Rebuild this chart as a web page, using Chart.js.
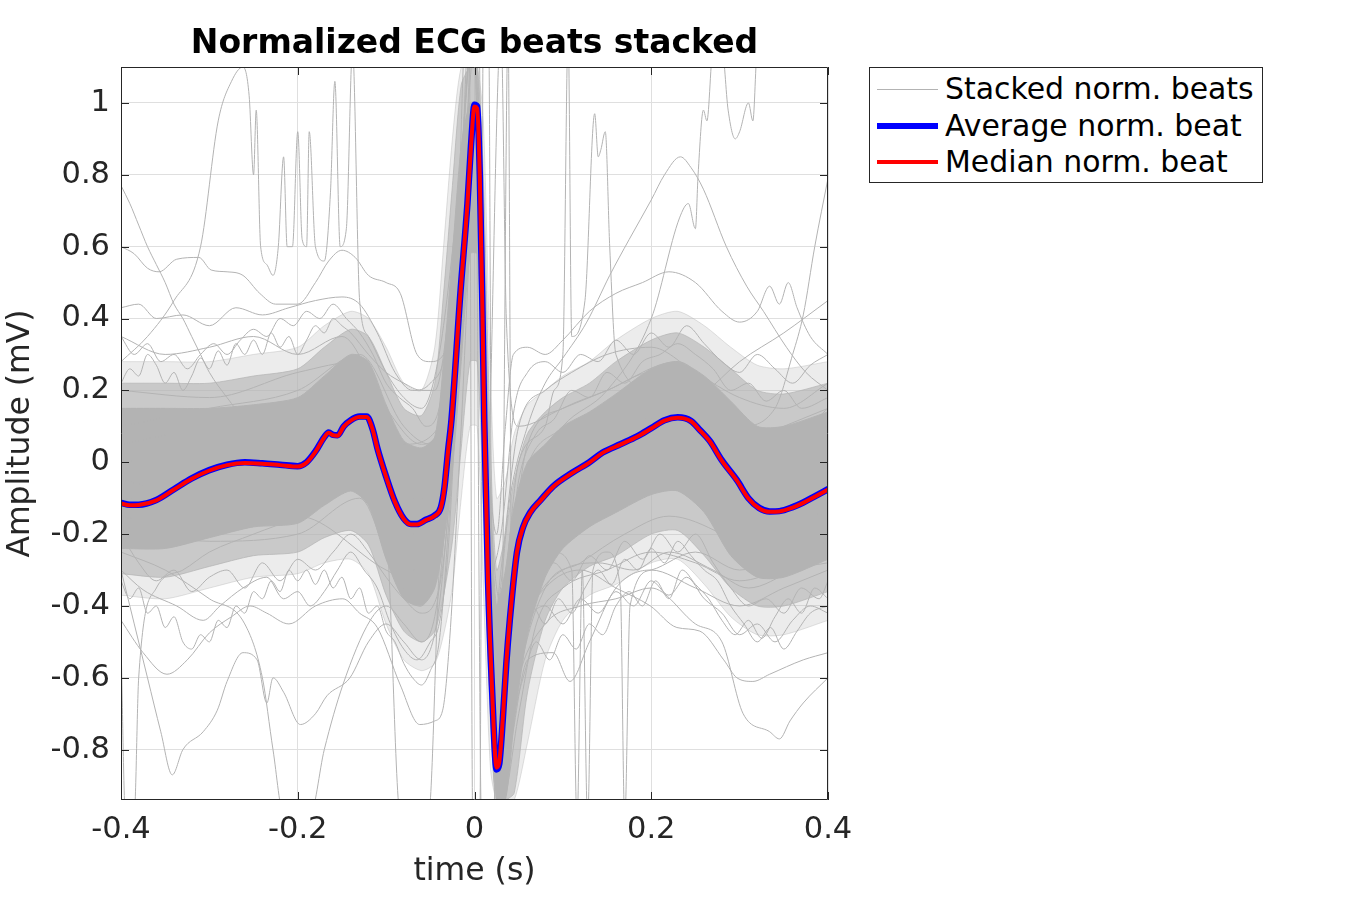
<!DOCTYPE html>
<html>
<head>
<meta charset="utf-8">
<script src="https://cdn.jsdelivr.net/npm/chart.js@4.4.1/dist/chart.umd.min.js"></script>
<style>
  html, body { margin: 0; padding: 0; background: #fff; overflow: hidden; }
  #wrap { position: relative; width: 1350px; height: 900px; }
  #title { position: absolute; left: 121px; width: 707px; top: 22px; text-align: center;
           font: bold 33px "DejaVu Sans"; color: #000; white-space: nowrap; }
  #legend { position: absolute; left: 869px; top: 67px; width: 392px; height: 114px;
            border: 1px solid #262626; background: #fff; }
  .lg { position: absolute; left: 0; height: 36px; width: 392px; }
  .lg .ln { position: absolute; left: 7px; width: 61px; }
  .lg .tx { position: absolute; left: 75px; top: 0; font: 29.9px "DejaVu Sans"; color: #000; line-height: 36px; white-space: nowrap; }
</style>
</head>
<body>
<div id="wrap">
  <canvas id="c" width="1350" height="900"></canvas>
  <div id="title">Normalized ECG beats stacked</div>
  <div id="legend">
    <div class="lg" style="top:3px"><div class="ln" style="top:18px;height:1px;background:#b3b3b3"></div><div class="tx">Stacked norm. beats</div></div>
    <div class="lg" style="top:40px"><div class="ln" style="top:15px;height:6px;background:#0000ff"></div><div class="tx">Average norm. beat</div></div>
    <div class="lg" style="top:76px"><div class="ln" style="top:16px;height:4px;background:#ff0000"></div><div class="tx">Median norm. beat</div></div>
  </div>
</div>
<script>
// ---------- axis ticks ----------
const xTicks = [-0.4, -0.2, 0, 0.2, 0.4];
const yTicks = [-0.8, -0.6, -0.4, -0.2, 0, 0.2, 0.4, 0.6, 0.8, 1];

// ---------- average and median beat ----------
const beatTime = [-0.40,-0.39,-0.38,-0.36,-0.34,-0.32,-0.30,-0.28,-0.26,-0.24,-0.22,-0.20,-0.19,-0.18,-0.17,-0.165,-0.16,-0.155,-0.148,-0.14,-0.13,-0.122,-0.115,-0.11,-0.10,-0.09,-0.08,-0.072,-0.065,-0.055,-0.045,-0.038,-0.034,-0.030,-0.026,-0.016,-0.008,-0.004,0.000,0.003,0.006,0.009,0.011,0.0153,0.020,0.025,0.028,0.032,0.036,0.040,0.048,0.055,0.063,0.075,0.089,0.11,0.13,0.145,0.165,0.184,0.20,0.215,0.23,0.245,0.255,0.266,0.28,0.297,0.31,0.322,0.334,0.345,0.36,0.372,0.385,0.40];
const avgBeat = [-0.113,-0.118,-0.118,-0.105,-0.075,-0.045,-0.022,-0.007,0.000,-0.003,-0.007,-0.011,0.000,0.030,0.070,0.083,0.076,0.075,0.100,0.117,0.127,0.127,0.090,0.040,-0.040,-0.110,-0.157,-0.172,-0.172,-0.160,-0.148,-0.125,-0.070,0.030,0.120,0.470,0.720,0.880,0.995,0.990,0.800,0.420,0.120,-0.330,-0.640,-0.855,-0.840,-0.717,-0.560,-0.438,-0.251,-0.180,-0.140,-0.105,-0.067,-0.030,0.000,0.027,0.050,0.072,0.095,0.117,0.125,0.115,0.090,0.060,0.005,-0.050,-0.100,-0.127,-0.137,-0.136,-0.125,-0.112,-0.095,-0.075];
const medianBeat = [-0.115,-0.120,-0.119,-0.106,-0.076,-0.046,-0.023,-0.008,-0.002,-0.004,-0.008,-0.012,-0.001,0.029,0.069,0.082,0.075,0.074,0.099,0.116,0.126,0.126,0.089,0.039,-0.041,-0.111,-0.158,-0.173,-0.173,-0.161,-0.149,-0.126,-0.071,0.028,0.118,0.468,0.718,0.878,0.990,0.985,0.795,0.418,0.118,-0.332,-0.642,-0.850,-0.835,-0.715,-0.558,-0.437,-0.250,-0.181,-0.141,-0.106,-0.068,-0.031,-0.001,0.026,0.049,0.071,0.094,0.116,0.124,0.114,0.089,0.059,0.004,-0.051,-0.101,-0.128,-0.138,-0.137,-0.126,-0.113,-0.096,-0.076];

// ---------- dense core of the stacked beats (envelopes) ----------
const bandTime    = [-0.40,-0.35,-0.30,-0.25,-0.20,-0.17,-0.14,-0.12,-0.10,-0.08,-0.06,-0.045,-0.035,-0.025,-0.015,-0.005,0.003,0.010,0.018,0.025,0.035,0.045,0.060,0.080,0.10,0.13,0.16,0.20,0.23,0.26,0.29,0.32,0.35,0.40];
const coreUpper   = [0.15,0.15,0.15,0.16,0.18,0.24,0.30,0.28,0.16,0.06,0.04,0.07,0.28,0.58,0.88,1.00,1.00,0.65,-0.10,-0.40,-0.30,-0.12,0.00,0.05,0.10,0.14,0.19,0.26,0.28,0.24,0.17,0.10,0.10,0.14];
const coreLower   = [-0.24,-0.24,-0.21,-0.18,-0.17,-0.12,-0.08,-0.12,-0.27,-0.38,-0.40,-0.35,-0.22,-0.02,0.28,0.58,0.58,0.18,-0.48,-0.94,-0.94,-0.72,-0.48,-0.32,-0.24,-0.18,-0.14,-0.09,-0.08,-0.14,-0.26,-0.32,-0.32,-0.27];
const haloUpper   = [0.22,0.22,0.22,0.24,0.26,0.32,0.37,0.35,0.25,0.15,0.13,0.22,0.47,0.77,1.05,1.10,1.10,0.80,0.05,-0.30,-0.20,-0.05,0.08,0.14,0.18,0.22,0.28,0.34,0.36,0.32,0.26,0.20,0.19,0.22];
const haloLower   = [-0.31,-0.32,-0.29,-0.26,-0.25,-0.21,-0.19,-0.23,-0.37,-0.47,-0.50,-0.47,-0.37,-0.22,0.04,0.28,0.28,-0.12,-0.72,-0.94,-0.94,-0.92,-0.64,-0.44,-0.35,-0.29,-0.26,-0.20,-0.19,-0.26,-0.35,-0.40,-0.40,-0.36];
const fringeUpper = [0.28,0.28,0.28,0.30,0.32,0.38,0.42,0.40,0.32,0.22,0.20,0.32,0.60,0.90,1.10,1.10,1.10,0.95,0.25,-0.10,-0.05,0.08,0.16,0.20,0.24,0.28,0.34,0.40,0.42,0.38,0.32,0.27,0.26,0.28];
const fringeLower = [-0.37,-0.38,-0.35,-0.32,-0.31,-0.28,-0.27,-0.31,-0.45,-0.55,-0.58,-0.56,-0.48,-0.35,-0.10,0.10,0.10,-0.35,-0.85,-0.94,-0.94,-0.94,-0.78,-0.55,-0.44,-0.37,-0.34,-0.28,-0.27,-0.34,-0.43,-0.48,-0.48,-0.44];

// ---------- individual outlying beats [time, amplitude] ----------
const beatHighDecline = [[-0.4,0.77],[-0.39,0.72],[-0.38,0.66],[-0.37,0.6],[-0.36,0.55],[-0.35,0.5],[-0.34,0.44],[-0.33,0.4],[-0.32,0.35],[-0.31,0.3],[-0.3,0.25],[-0.28,0.18],[-0.26,0.12],[-0.23,0.08],[-0.2,0.06],[-0.17,0.12],[-0.14,0.18],[-0.12,0.15],[-0.1,0.05],[-0.08,-0.08],[-0.06,-0.1],[-0.04,-0.05],[-0.025,0.2],[-0.01,0.6],[0.0,0.95],[0.01,0.3],[0.02,-0.6],[0.027,-0.8],[0.035,-0.55],[0.05,-0.2],[0.08,-0.05],[0.12,0.02],[0.17,0.08],[0.22,0.15],[0.26,0.1],[0.3,-0.05],[0.34,-0.1],[0.4,-0.02]];
const beatNoisyHigh = [[-0.4,0.28],[-0.37,0.35],[-0.34,0.45],[-0.31,0.6],[-0.29,0.95],[-0.275,1.06],[-0.262,1.1],[-0.255,1.02],[-0.25,0.8],[-0.247,0.98],[-0.242,0.6],[-0.235,0.55],[-0.228,0.52],[-0.222,0.6],[-0.216,0.85],[-0.212,0.6],[-0.206,0.6],[-0.2,0.92],[-0.195,0.62],[-0.19,0.6],[-0.187,0.92],[-0.18,0.6],[-0.17,0.56],[-0.163,0.75],[-0.158,1.06],[-0.152,0.6],[-0.145,0.65],[-0.138,1.15],[-0.13,0.45],[-0.12,0.35],[-0.1,0.25],[-0.08,0.18],[-0.06,0.15],[-0.04,0.3],[-0.02,0.7],[0.0,1.2],[0.012,-0.2],[0.025,-0.5],[0.05,0.0],[0.08,0.1],[0.09,0.2],[0.1,0.3],[0.106,1.2],[0.11,0.35],[0.125,0.45],[0.136,0.97],[0.14,0.85],[0.143,0.87],[0.148,0.92],[0.153,0.6],[0.16,0.3],[0.2,0.2],[0.25,0.15],[0.3,0.05],[0.35,0.1],[0.4,0.15]];
const beatLateHump = [[-0.4,0.35],[-0.35,0.3],[-0.3,0.32],[-0.25,0.35],[-0.2,0.3],[-0.15,0.35],[-0.1,0.15],[-0.06,0.05],[-0.03,0.2],[-0.01,0.7],[0.0,1.0],[0.012,0.0],[0.025,-0.4],[0.04,-0.1],[0.06,0.1],[0.08,0.22],[0.1,0.29],[0.127,0.39],[0.153,0.52],[0.175,0.62],[0.2,0.73],[0.215,0.8],[0.233,0.85],[0.245,0.82],[0.259,0.76],[0.285,0.6],[0.308,0.49],[0.327,0.42],[0.353,0.32],[0.375,0.25],[0.4,0.2]];
const beatMidHigh = [[-0.4,0.43],[-0.38,0.44],[-0.36,0.4],[-0.33,0.41],[-0.3,0.38],[-0.27,0.43],[-0.24,0.41],[-0.21,0.43],[-0.18,0.45],[-0.15,0.46],[-0.13,0.44],[-0.11,0.36],[-0.09,0.25],[-0.07,0.2],[-0.05,0.22],[-0.03,0.35],[-0.015,0.8],[0.0,1.3],[0.01,0.4],[0.02,-0.5],[0.03,-0.3],[0.05,0.1],[0.08,0.2],[0.11,0.25],[0.15,0.3],[0.2,0.32],[0.25,0.25],[0.3,0.18],[0.35,0.15],[0.4,0.22]];
const beatWavyHigh = [[-0.4,0.6],[-0.385,0.58],[-0.37,0.54],[-0.357,0.53],[-0.337,0.565],[-0.312,0.57],[-0.298,0.535],[-0.28,0.53],[-0.262,0.52],[-0.243,0.47],[-0.225,0.44],[-0.2,0.44],[-0.18,0.5],[-0.165,0.56],[-0.15,0.59],[-0.135,0.57],[-0.12,0.52],[-0.1,0.5],[-0.084,0.47],[-0.065,0.3],[-0.05,0.28],[-0.035,0.3],[-0.02,0.6],[-0.005,1.0],[0.005,0.9],[0.015,-0.2],[0.025,-0.6],[0.04,-0.3],[0.06,0.05],[0.1,0.15],[0.15,0.2],[0.2,0.25],[0.25,0.22],[0.3,0.1],[0.35,0.05],[0.4,0.1]];
const beatPostWavy = [[-0.4,0.1],[-0.3,0.15],[-0.2,0.2],[-0.13,0.3],[-0.08,0.1],[-0.05,0.05],[-0.025,0.3],[-0.008,0.8],[0.002,1.0],[0.012,0.2],[0.025,-0.2],[0.035,0.1],[0.044,0.3],[0.06,0.32],[0.08,0.3],[0.1,0.34],[0.13,0.42],[0.16,0.47],[0.19,0.5],[0.22,0.53],[0.25,0.5],[0.28,0.42],[0.3,0.39],[0.32,0.42],[0.334,0.49],[0.345,0.44],[0.355,0.5],[0.365,0.43],[0.38,0.35],[0.4,0.3]];
const beatTopRight = [[-0.4,0.05],[-0.3,0.1],[-0.2,0.15],[-0.13,0.2],[-0.07,-0.05],[-0.03,0.2],[0.0,1.0],[0.015,-0.3],[0.025,-0.6],[0.05,-0.1],[0.1,0.1],[0.15,0.2],[0.2,0.4],[0.232,0.68],[0.242,0.72],[0.25,0.65],[0.253,0.8],[0.259,0.98],[0.263,0.95],[0.27,1.15],[0.28,1.15],[0.287,0.98],[0.295,0.9],[0.3,0.92],[0.31,1.0],[0.315,0.95],[0.32,1.15],[0.4,1.3]];
const beatEndRise = [[-0.4,0.0],[-0.3,0.05],[-0.2,0.08],[-0.13,0.2],[-0.07,-0.1],[-0.03,0.1],[0.0,0.95],[0.015,-0.3],[0.026,-0.7],[0.05,-0.15],[0.1,0.0],[0.2,0.1],[0.26,0.12],[0.3,0.1],[0.34,0.15],[0.36,0.3],[0.372,0.41],[0.385,0.6],[0.4,0.79]];
const beatEndSlope = [[-0.4,-0.05],[-0.3,0.0],[-0.2,0.02],[-0.13,0.15],[-0.07,-0.2],[-0.03,0.0],[0.0,0.9],[0.015,-0.4],[0.026,-0.8],[0.05,-0.2],[0.1,-0.02],[0.2,0.1],[0.259,0.19],[0.3,0.28],[0.35,0.36],[0.4,0.45]];
const beatUpperWave = [[-0.4,0.22],[-0.39,0.26],[-0.38,0.24],[-0.37,0.3],[-0.36,0.27],[-0.35,0.22],[-0.34,0.25],[-0.33,0.2],[-0.32,0.24],[-0.31,0.29],[-0.3,0.26],[-0.29,0.31],[-0.28,0.27],[-0.27,0.33],[-0.26,0.3],[-0.25,0.34],[-0.24,0.3],[-0.23,0.36],[-0.22,0.32],[-0.21,0.35],[-0.2,0.3],[-0.19,0.34],[-0.18,0.38],[-0.17,0.36],[-0.16,0.4],[-0.15,0.38],[-0.14,0.36],[-0.12,0.3],[-0.1,0.25],[-0.08,0.22],[-0.06,0.2],[-0.045,0.2],[-0.03,0.4],[-0.015,0.85],[-0.002,1.2],[0.008,0.5],[0.018,-0.3],[0.03,-0.2],[0.045,0.15],[0.06,0.25],[0.08,0.28],[0.1,0.25],[0.12,0.3],[0.14,0.28],[0.16,0.34],[0.18,0.3],[0.2,0.36],[0.22,0.32],[0.24,0.38],[0.26,0.33],[0.28,0.28],[0.3,0.25],[0.32,0.3],[0.34,0.26],[0.36,0.22],[0.38,0.27],[0.4,0.3]];
const beatUpperWave2 = [[-0.4,0.35],[-0.385,0.3],[-0.37,0.33],[-0.355,0.28],[-0.34,0.3],[-0.325,0.26],[-0.31,0.3],[-0.295,0.33],[-0.28,0.3],[-0.265,0.34],[-0.25,0.37],[-0.235,0.35],[-0.22,0.4],[-0.205,0.38],[-0.19,0.42],[-0.175,0.4],[-0.16,0.44],[-0.145,0.4],[-0.13,0.36],[-0.115,0.3],[-0.1,0.22],[-0.085,0.18],[-0.07,0.15],[-0.055,0.1],[-0.04,0.15],[-0.025,0.4],[-0.01,0.9],[0.0,1.15],[0.01,0.5],[0.02,-0.2],[0.032,-0.4],[0.05,-0.05],[0.07,0.08],[0.09,0.12],[0.11,0.2],[0.13,0.18],[0.15,0.25],[0.17,0.22],[0.19,0.28],[0.21,0.3],[0.23,0.33],[0.25,0.3],[0.27,0.26],[0.29,0.2],[0.31,0.22],[0.33,0.17],[0.35,0.2],[0.37,0.15],[0.4,0.18]];
const beatLowA = [[-0.4,-0.44],[-0.375,-0.53],[-0.348,-0.59],[-0.325,-0.55],[-0.3,-0.475],[-0.275,-0.43],[-0.254,-0.4],[-0.235,-0.42],[-0.21,-0.45],[-0.18,-0.4],[-0.149,-0.38],[-0.13,-0.42],[-0.11,-0.46],[-0.084,-0.62],[-0.062,-0.73],[-0.045,-0.72],[-0.036,-0.69],[-0.028,-0.49],[-0.015,0.1],[-0.003,0.7],[0.003,0.8],[0.012,-0.1],[0.025,-0.96],[0.04,-0.8],[0.06,-0.55],[0.089,-0.53],[0.108,-0.61],[0.13,-0.5],[0.16,-0.35],[0.2,-0.3],[0.25,-0.35],[0.3,-0.4],[0.35,-0.35],[0.4,-0.3]];
const beatLowB = [[-0.4,-0.33],[-0.39,-0.38],[-0.38,-0.35],[-0.37,-0.42],[-0.36,-0.4],[-0.35,-0.46],[-0.34,-0.43],[-0.33,-0.5],[-0.32,-0.52],[-0.31,-0.48],[-0.3,-0.5],[-0.29,-0.44],[-0.28,-0.46],[-0.27,-0.4],[-0.26,-0.42],[-0.25,-0.36],[-0.24,-0.38],[-0.23,-0.33],[-0.22,-0.36],[-0.21,-0.3],[-0.2,-0.33],[-0.19,-0.3],[-0.18,-0.34],[-0.17,-0.3],[-0.16,-0.35],[-0.15,-0.32],[-0.14,-0.38],[-0.13,-0.35],[-0.12,-0.42],[-0.11,-0.4],[-0.1,-0.47],[-0.09,-0.5],[-0.08,-0.56],[-0.07,-0.6],[-0.06,-0.62],[-0.05,-0.58],[-0.04,-0.5],[-0.03,-0.2],[-0.015,0.4],[0.0,0.9],[0.015,-0.4],[0.028,-0.98],[0.045,-0.6],[0.06,-0.45],[0.08,-0.4],[0.1,-0.45],[0.12,-0.38],[0.14,-0.42],[0.16,-0.36],[0.18,-0.4],[0.2,-0.33],[0.22,-0.37],[0.24,-0.32],[0.26,-0.38],[0.28,-0.42],[0.3,-0.48],[0.32,-0.45],[0.34,-0.5],[0.36,-0.44],[0.38,-0.4],[0.4,-0.42]];
const beatLowC = [[-0.4,-0.3],[-0.375,-0.355],[-0.337,-0.4],[-0.307,-0.44],[-0.288,-0.4],[-0.262,-0.35],[-0.235,-0.32],[-0.216,-0.38],[-0.2,-0.36],[-0.186,-0.4],[-0.17,-0.36],[-0.155,-0.3],[-0.14,-0.25],[-0.125,-0.3],[-0.11,-0.35],[-0.095,-0.45],[-0.08,-0.52],[-0.065,-0.55],[-0.05,-0.5],[-0.04,-0.45],[-0.03,-0.25],[-0.018,0.3],[-0.004,0.85],[0.006,0.7],[0.018,-0.5],[0.032,-0.85],[0.05,-0.55],[0.07,-0.35],[0.09,-0.28],[0.11,-0.33],[0.13,-0.26],[0.15,-0.3],[0.17,-0.22],[0.19,-0.27],[0.21,-0.2],[0.23,-0.25],[0.25,-0.2],[0.27,-0.28],[0.29,-0.35],[0.31,-0.4],[0.33,-0.38],[0.35,-0.42],[0.37,-0.35],[0.39,-0.38],[0.4,-0.33]];
const beatLowDeep = [[-0.4,-0.3],[-0.385,-0.45],[-0.37,-0.6],[-0.355,-0.75],[-0.342,-0.87],[-0.33,-0.8],[-0.307,-0.75],[-0.291,-0.69],[-0.28,-0.61],[-0.262,-0.53],[-0.246,-0.55],[-0.235,-0.67],[-0.228,-0.6],[-0.216,-0.64],[-0.197,-0.73],[-0.18,-0.7],[-0.167,-0.65],[-0.141,-0.6],[-0.12,-0.5],[-0.1,-0.45],[-0.08,-0.5],[-0.06,-0.55],[-0.04,-0.4],[-0.02,0.2],[-0.005,0.8],[0.005,0.6],[0.015,-0.5],[0.03,-0.96],[0.05,-0.7],[0.07,-0.45],[0.1,-0.35],[0.15,-0.3],[0.2,-0.25],[0.25,-0.28],[0.3,-0.33],[0.35,-0.3],[0.4,-0.28]];
const beatLowV = [[-0.4,-0.25],[-0.35,-0.3],[-0.3,-0.38],[-0.26,-0.45],[-0.24,-0.6],[-0.228,-0.8],[-0.216,-0.98],[-0.186,-0.98],[-0.17,-0.8],[-0.149,-0.62],[-0.118,-0.44],[-0.1,-0.4],[-0.08,-0.45],[-0.06,-0.5],[-0.04,-0.35],[-0.02,0.3],[0.0,0.9],[0.015,-0.2],[0.03,-0.96],[0.05,-0.6],[0.08,-0.35],[0.12,-0.28],[0.17,-0.2],[0.22,-0.15],[0.28,-0.2],[0.33,-0.28],[0.4,-0.22]];
const beatLowWiggle = [[-0.4,-0.2],[-0.38,-0.28],[-0.36,-0.33],[-0.34,-0.3],[-0.32,-0.36],[-0.3,-0.32],[-0.28,-0.3],[-0.26,-0.35],[-0.24,-0.28],[-0.22,-0.33],[-0.2,-0.27],[-0.18,-0.3],[-0.16,-0.25],[-0.14,-0.2],[-0.12,-0.25],[-0.1,-0.32],[-0.08,-0.38],[-0.06,-0.42],[-0.04,-0.35],[-0.025,0.0],[-0.01,0.6],[0.0,0.9],[0.012,0.0],[0.025,-0.8],[0.045,-0.55],[0.07,-0.38],[0.1,-0.3],[0.14,-0.28],[0.18,-0.3],[0.22,-0.25],[0.27,-0.3],[0.31,-0.35],[0.36,-0.3],[0.4,-0.25]];
const beatLowRightDeep = [[-0.4,-0.15],[-0.3,-0.2],[-0.2,-0.15],[-0.1,-0.3],[-0.05,-0.35],[-0.03,-0.1],[-0.01,0.7],[0.0,1.0],[0.015,-0.3],[0.028,-0.9],[0.05,-0.6],[0.08,-0.45],[0.12,-0.4],[0.16,-0.38],[0.2,-0.35],[0.25,-0.45],[0.28,-0.5],[0.304,-0.7],[0.334,-0.75],[0.345,-0.77],[0.357,-0.72],[0.372,-0.67],[0.4,-0.6]];
const beatLowRight = [[-0.4,-0.1],[-0.3,-0.12],[-0.2,-0.1],[-0.13,0.0],[-0.07,-0.25],[-0.04,-0.2],[-0.02,0.3],[0.0,0.95],[0.015,-0.2],[0.026,-0.75],[0.045,-0.5],[0.08,-0.35],[0.12,-0.3],[0.16,-0.35],[0.199,-0.4],[0.229,-0.46],[0.255,-0.47],[0.282,-0.55],[0.297,-0.6],[0.315,-0.61],[0.334,-0.59],[0.372,-0.55],[0.4,-0.53]];
const beatLowRightWave = [[-0.4,-0.05],[-0.3,-0.1],[-0.2,-0.12],[-0.14,-0.05],[-0.1,-0.2],[-0.07,-0.3],[-0.04,-0.25],[-0.025,0.1],[-0.01,0.7],[0.0,0.95],[0.012,0.1],[0.024,-0.7],[0.035,-0.62],[0.05,-0.45],[0.065,-0.4],[0.08,-0.45],[0.095,-0.38],[0.11,-0.42],[0.125,-0.35],[0.14,-0.3],[0.155,-0.34],[0.17,-0.27],[0.185,-0.3],[0.2,-0.24],[0.215,-0.28],[0.23,-0.22],[0.245,-0.26],[0.26,-0.3],[0.275,-0.33],[0.29,-0.4],[0.305,-0.45],[0.32,-0.5],[0.335,-0.46],[0.35,-0.52],[0.365,-0.47],[0.38,-0.42],[0.4,-0.4]];
const beatLowRightWave2 = [[-0.4,-0.18],[-0.3,-0.22],[-0.2,-0.2],[-0.13,-0.1],[-0.08,-0.35],[-0.05,-0.3],[-0.03,-0.05],[-0.012,0.6],[0.0,0.9],[0.013,-0.1],[0.027,-0.9],[0.04,-0.75],[0.055,-0.6],[0.07,-0.5],[0.085,-0.55],[0.1,-0.48],[0.115,-0.52],[0.13,-0.45],[0.145,-0.48],[0.16,-0.4],[0.175,-0.36],[0.19,-0.4],[0.205,-0.33],[0.22,-0.38],[0.235,-0.3],[0.25,-0.34],[0.265,-0.38],[0.28,-0.44],[0.295,-0.48],[0.31,-0.44],[0.325,-0.49],[0.34,-0.43],[0.355,-0.38],[0.37,-0.42],[0.385,-0.35],[0.4,-0.38]];
const beatSpikesDown = [[-0.4,-0.05],[-0.3,-0.08],[-0.2,-0.05],[-0.13,0.05],[-0.07,-0.2],[-0.035,-0.1],[-0.01,0.6],[0.0,0.95],[0.015,-0.3],[0.026,-0.85],[0.045,-0.4],[0.06,-0.2],[0.09,-0.25],[0.11,-0.3],[0.116,-1.0],[0.122,-0.3],[0.128,-1.0],[0.134,-0.3],[0.15,-0.25],[0.165,-0.35],[0.17,-1.0],[0.176,-0.4],[0.2,-0.3],[0.25,-0.25],[0.3,-0.3],[0.35,-0.25],[0.4,-0.2]];
const beatLeftDrop = [[-0.4,-0.5],[-0.395,-0.98],[-0.385,-0.98],[-0.38,-0.6],[-0.36,-0.35],[-0.33,-0.3],[-0.3,-0.25],[-0.25,-0.2],[-0.2,-0.15],[-0.14,-0.05],[-0.1,-0.2],[-0.084,-0.98],[-0.07,-0.98],[-0.052,-0.98],[-0.04,-0.3],[-0.015,0.5],[0.0,1.3],[0.008,-1.0],[0.02,-1.0],[0.03,-0.5],[0.05,-0.15],[0.1,0.0],[0.2,0.08],[0.3,-0.1],[0.4,-0.15]];
const beatQrsWide = [[-0.4,0.2],[-0.3,0.18],[-0.2,0.25],[-0.13,0.28],[-0.08,0.05],[-0.04,0.1],[-0.02,0.6],[-0.008,1.3],[0.004,1.3],[0.012,-0.2],[0.03,1.2],[0.036,0.4],[0.05,0.1],[0.1,0.15],[0.15,0.2],[0.23,0.28],[0.3,0.1],[0.35,0.05],[0.4,0.15]];
const beatQrsSpikes = [[-0.4,0.0],[-0.2,0.05],[-0.13,0.15],[-0.08,-0.1],[-0.04,0.0],[-0.02,0.4],[-0.006,1.2],[-0.002,-1.0],[0.006,-1.0],[0.01,1.2],[0.016,1.2],[0.02,-0.5],[0.03,-0.6],[0.038,1.2],[0.042,-0.3],[0.06,-0.1],[0.1,0.05],[0.2,0.12],[0.3,-0.05],[0.4,-0.05]];

const outlierBeats = [beatHighDecline, beatNoisyHigh, beatLateHump, beatMidHigh, beatWavyHigh, beatPostWavy,
  beatTopRight, beatEndRise, beatEndSlope, beatUpperWave, beatUpperWave2, beatLowA, beatLowB, beatLowC,
  beatLowDeep, beatLowV, beatLowWiggle, beatLowRightDeep, beatLowRight, beatLowRightWave, beatLowRightWave2,
  beatSpikesDown, beatLeftDrop, beatQrsWide, beatQrsSpikes];

const GREY = '#b3b3b3';
const pts = (t, v) => t.map((x, i) => ({ x: x, y: v[i] }));
const pairPts = arr => arr.map(p => ({ x: p[0], y: p[1] }));

const datasets = [];
datasets.push({ label: 'Median norm. beat', data: pts(beatTime, medianBeat), borderColor: '#ff0000', borderWidth: 4, order: 0, cubicInterpolationMode: 'monotone' });
datasets.push({ label: 'Average norm. beat', data: pts(beatTime, avgBeat), borderColor: '#0000ff', borderWidth: 6.5, order: 1, cubicInterpolationMode: 'monotone' });
outlierBeats.forEach(b => datasets.push({ label: 'Stacked norm. beats', data: pairPts(b), borderColor: GREY, borderWidth: 1, order: 2, cubicInterpolationMode: 'monotone' }));
function addBand(upper, lower, fillCol, lineCol, ord) {
  const idx = datasets.length;
  datasets.push({ label: 'band', data: pts(bandTime, upper), borderColor: lineCol, borderWidth: 1, backgroundColor: fillCol, fill: idx + 1, order: ord, tension: 0.25 });
  datasets.push({ label: 'band', data: pts(bandTime, lower), borderColor: lineCol, borderWidth: 1, order: ord, tension: 0.25 });
}
addBand(coreUpper, coreLower, GREY, GREY, 3);
addBand(haloUpper, haloLower, 'rgba(179,179,179,0.62)', 'rgba(179,179,179,0.7)', 4);
addBand(fringeUpper, fringeLower, 'rgba(179,179,179,0.25)', 'rgba(179,179,179,0.4)', 5);

const AX = '#262626';
const FONT = 'DejaVu Sans';

const boxPlugin = {
  id: 'boxPlugin',
  afterDraw(chart) {
    const { ctx, chartArea: a, scales } = chart;
    ctx.save();
    ctx.strokeStyle = AX;
    ctx.lineWidth = 1;
    ctx.beginPath();
    ctx.rect(a.left + 0.5, a.top + 0.5, a.right - a.left - 1, a.bottom - a.top - 1);
    ctx.stroke();
    const L = 8;
    ctx.beginPath();
    yTicks.forEach(v => {
      const y = Math.round(scales.y.getPixelForValue(v)) + 0.5;
      ctx.moveTo(a.left, y); ctx.lineTo(a.left + L, y);
      ctx.moveTo(a.right, y); ctx.lineTo(a.right - L, y);
    });
    xTicks.forEach(v => {
      const x = Math.round(scales.x.getPixelForValue(v)) + 0.5;
      ctx.moveTo(x, a.bottom); ctx.lineTo(x, a.bottom - L);
      ctx.moveTo(x, a.top); ctx.lineTo(x, a.top + L);
    });
    ctx.stroke();
    ctx.restore();
  }
};

new Chart(document.getElementById('c'), {
  type: 'line',
  data: { datasets: datasets },
  options: {
    responsive: false,
    animation: false,
    devicePixelRatio: 1,
    elements: { point: { radius: 0 }, line: { borderJoinStyle: 'round', borderCapStyle: 'round' } },
    layout: { padding: { top: 67, right: 522, left: 0, bottom: 0 } },
    plugins: { legend: { display: false }, tooltip: { enabled: false }, title: { display: false },
               filler: { propagate: false } },
    scales: {
      x: {
        type: 'linear', min: -0.4, max: 0.4,
        afterBuildTicks: s => { s.ticks = xTicks.map(v => ({ value: v })); },
        afterFit: s => { s.height = 100; },
        grid: { color: '#dfdfdf', drawTicks: false },
        border: { display: false },
        ticks: { color: AX, font: { family: FONT, size: 30.5 }, padding: 12, maxRotation: 0,
                 callback: v => String(v) },
        title: { display: true, text: 'time (s)', color: AX, font: { family: FONT, size: 31.5, lineHeight: 1.2 }, padding: { top: 0, bottom: 9 } }
      },
      y: {
        type: 'linear', min: -0.94, max: 1.1,
        afterBuildTicks: s => { s.ticks = yTicks.map(v => ({ value: v })); },
        afterFit: s => { s.width = 121; },
        grid: { color: '#dfdfdf', drawTicks: false },
        border: { display: false },
        ticks: { color: AX, font: { family: FONT, size: 30.5 }, padding: 11,
                 callback: v => String(v) },
        title: { display: true, text: 'Amplitude (mV)', color: AX, font: { family: FONT, size: 31.5, lineHeight: 1.2 }, padding: { top: 2 } }
      }
    }
  },
  plugins: [boxPlugin]
});
</script>
</body>
</html>
